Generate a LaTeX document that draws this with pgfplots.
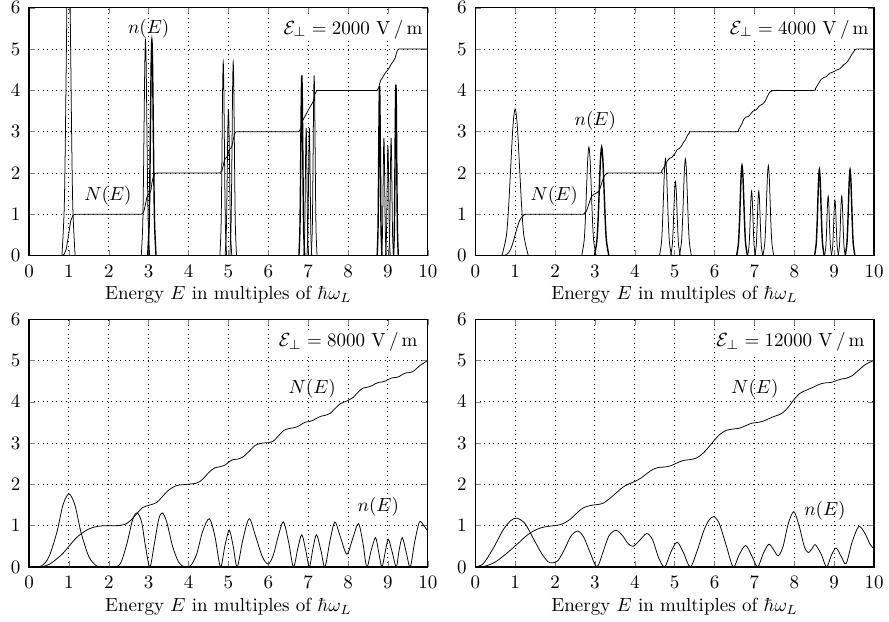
\documentclass[border=0pt]{standalone}
\usepackage{pgfplots}
\pgfplotsset{compat=1.18}
\pgfplotsset{
  panel/.style={
    width=210pt, height=130.5pt, scale only axis,
    xmin=0, xmax=10, ymin=0, ymax=6,
    xtick={0,1,2,3,4,5,6,7,8,9,10}, ytick={0,1,2,3,4,5,6},
    grid=major, major grid style={dotted, black, line width=0.5pt},
    tick align=inside, major tick length=3pt,
    axis line style={black, line width=0.6pt},
    xlabel={Energy $E$ in multiples of $\hbar\omega_L$},
    xlabel style={yshift=2pt},
    xticklabel style={yshift=-1.5pt},
    yticklabel style={xshift=-1pt},
    cycle list={{black, solid, line width=0.75pt, mark=none}},
  }
}
\begin{document}
\begin{tikzpicture}
% ---------------- panel 1: 2000 V/m
\begin{axis}[panel, at={(0pt,164pt)}]
\addplot+[smooth] coordinates {(0.825,0)(0.88,1.08)(0.9075,2.6)(0.935,4.86)(0.9625,7.06)(0.99,8)(1.0175,7.06)(1.045,4.86)(1.0725,2.6)(1.10,1.08)(1.155,0)};
\addplot+[smooth] coordinates {(2.815,0)(2.85,0.705)(2.8675,1.70)(2.885,3.17)(2.9025,4.61)(2.92,5.22)(2.9375,4.61)(2.955,3.17)(2.9725,1.70)(2.99,0.705)(3.025,0)};
\addplot+[smooth] coordinates {(2.975,0)(3.01,0.705)(3.0275,1.70)(3.045,3.17)(3.0625,4.61)(3.08,5.22)(3.0975,4.61)(3.115,3.17)(3.1325,1.70)(3.15,0.705)(3.185,0)};
\addplot+[smooth] coordinates {(4.786,0)(4.814,0.633)(4.828,1.524)(4.842,2.847)(4.856,4.141)(4.87,4.69)(4.884,4.141)(4.898,2.847)(4.912,1.524)(4.926,0.633)(4.954,0)};
\addplot+[smooth] coordinates {(4.916,0)(4.944,0.479)(4.958,1.154)(4.972,2.155)(4.986,3.135)(5.0,3.55)(5.014,3.135)(5.028,2.155)(5.042,1.154)(5.056,0.479)(5.084,0)};
\addplot+[smooth] coordinates {(5.036,0)(5.064,0.633)(5.078,1.524)(5.092,2.847)(5.106,4.141)(5.12,4.69)(5.134,4.141)(5.148,2.847)(5.162,1.524)(5.176,0.633)(5.204,0)};
\addplot+[smooth] coordinates {(6.768,0)(6.792,0.589)(6.804,1.417)(6.816,2.647)(6.828,3.85)(6.84,4.36)(6.852,3.85)(6.864,2.647)(6.876,1.417)(6.888,0.589)(6.912,0)};
\addplot+[smooth] coordinates {(6.89,0)(6.91,0.417)(6.92,1.004)(6.93,1.876)(6.94,2.728)(6.95,3.09)(6.96,2.728)(6.97,1.876)(6.98,1.004)(6.99,0.417)(7.01,0)};
\addplot+[smooth] coordinates {(6.97,0)(6.99,0.417)(7.00,1.004)(7.01,1.876)(7.02,2.728)(7.03,3.09)(7.04,2.728)(7.05,1.876)(7.06,1.004)(7.07,0.417)(7.09,0)};
\addplot+[smooth] coordinates {(7.078,0)(7.102,0.589)(7.114,1.417)(7.126,2.647)(7.138,3.85)(7.15,4.36)(7.162,3.85)(7.174,2.647)(7.186,1.417)(7.198,0.589)(7.222,0)};
\addplot+[smooth] coordinates {(8.73,0)(8.75,0.554)(8.76,1.333)(8.77,2.489)(8.78,3.62)(8.79,4.1)(8.80,3.62)(8.81,2.489)(8.82,1.333)(8.83,0.554)(8.85,0)};
\addplot+[smooth] coordinates {(8.84,0)(8.86,0.385)(8.87,0.926)(8.88,1.73)(8.89,2.517)(8.90,2.85)(8.91,2.517)(8.92,1.73)(8.93,0.926)(8.94,0.385)(8.96,0)};
\addplot+[smooth] coordinates {(8.94,0)(8.96,0.36)(8.97,0.868)(8.98,1.621)(8.99,2.358)(9.0,2.67)(9.01,2.358)(9.02,1.621)(9.03,0.868)(9.04,0.36)(9.06,0)};
\addplot+[smooth] coordinates {(9.02,0)(9.04,0.385)(9.05,0.926)(9.06,1.73)(9.07,2.517)(9.08,2.85)(9.09,2.517)(9.10,1.73)(9.11,0.926)(9.12,0.385)(9.14,0)};
\addplot+[smooth] coordinates {(9.14,0)(9.16,0.559)(9.17,1.346)(9.18,2.513)(9.19,3.656)(9.20,4.14)(9.21,3.656)(9.22,2.513)(9.23,1.346)(9.24,0.559)(9.26,0)};
% N(E)
\addplot coordinates {(0,0)(0.82,0)(0.88,0.03)(0.935,0.16)(0.99,0.5)(1.045,0.84)(1.10,0.97)(1.15,1.0)
(2.80,1.0)(2.85,1.02)(2.885,1.09)(2.92,1.25)(2.955,1.41)(2.99,1.48)(3.03,1.51)(3.06,1.6)(3.08,1.75)(3.115,1.91)(3.15,1.98)(3.2,2.0)
(4.78,2.0)(4.84,2.06)(4.87,2.185)(4.90,2.31)(4.94,2.37)(4.975,2.40)(5.0,2.485)(5.025,2.57)(5.06,2.60)(5.09,2.66)(5.12,2.80)(5.15,2.94)(5.19,2.995)(5.23,3.0)
(6.77,3.0)(6.82,3.09)(6.84,3.175)(6.86,3.26)(6.90,3.34)(6.95,3.425)(6.99,3.5)(7.03,3.575)(7.08,3.65)(7.13,3.74)(7.15,3.825)(7.17,3.91)(7.21,3.99)(7.25,4.0)
(8.73,4.0)(8.77,4.07)(8.79,4.15)(8.82,4.25)(8.86,4.30)(8.90,4.37)(8.94,4.43)(9.0,4.5)(9.04,4.56)(9.08,4.63)(9.13,4.70)(9.18,4.78)(9.20,4.85)(9.23,4.95)(9.27,5.0)(10,5.0)};
\node at (axis cs:3.0,5.5) {$n(E)$};
\node at (axis cs:1.98,1.45) {$N(E)$};
\node[anchor=east, fill=white, inner sep=1pt] at (axis cs:9.92,5.48) {$\mathcal{E}_\perp = 2000\ \mathrm{V}\,/\,\mathrm{m}$};
\end{axis}
% ---------------- panel 2: 4000 V/m
\begin{axis}[panel, at={(235pt,164pt)}]
\addplot+[smooth] coordinates {(0.67,0)(0.78,0.479)(0.835,1.154)(0.89,2.155)(0.945,3.135)(1.0,3.55)(1.055,3.135)(1.11,2.155)(1.165,1.154)(1.22,0.479)(1.33,0)};
\addplot+[smooth] coordinates {(2.67,0)(2.73,0.355)(2.76,0.855)(2.79,1.596)(2.82,2.322)(2.85,2.63)(2.88,2.322)(2.91,1.596)(2.94,0.855)(2.97,0.355)(3.03,0)};
\addplot+[smooth] coordinates {(2.99,0)(3.05,0.355)(3.08,0.855)(3.11,1.596)(3.14,2.322)(3.17,2.63)(3.20,2.322)(3.23,1.596)(3.26,0.855)(3.29,0.355)(3.35,0)};
\addplot+[smooth] coordinates {(4.62,0)(4.67,0.316)(4.695,0.761)(4.72,1.42)(4.745,2.066)(4.77,2.34)(4.795,2.066)(4.82,1.42)(4.845,0.761)(4.87,0.316)(4.92,0)};
\addplot+[smooth] coordinates {(4.90,0)(4.94,0.242)(4.96,0.582)(4.98,1.087)(5.0,1.581)(5.02,1.79)(5.04,1.581)(5.06,1.087)(5.08,0.582)(5.10,0.242)(5.14,0)};
\addplot+[smooth] coordinates {(5.12,0)(5.17,0.316)(5.195,0.761)(5.22,1.42)(5.245,2.066)(5.27,2.34)(5.295,2.066)(5.32,1.42)(5.345,0.761)(5.37,0.316)(5.42,0)};
\addplot+[smooth] coordinates {(6.555,0)(6.60,0.294)(6.6225,0.709)(6.645,1.323)(6.6675,1.925)(6.69,2.18)(6.7125,1.925)(6.735,1.323)(6.7575,0.709)(6.78,0.294)(6.825,0)};
\addplot+[smooth] coordinates {(6.831,0)(6.864,0.211)(6.8805,0.507)(6.897,0.947)(6.9135,1.377)(6.93,1.56)(6.9465,1.377)(6.963,0.947)(6.9795,0.507)(6.996,0.211)(7.029,0)};
\addplot+[smooth] coordinates {(7.011,0)(7.044,0.211)(7.0605,0.507)(7.077,0.947)(7.0935,1.377)(7.11,1.56)(7.1265,1.377)(7.143,0.947)(7.1595,0.507)(7.176,0.211)(7.209,0)};
\addplot+[smooth] coordinates {(7.215,0)(7.26,0.294)(7.2825,0.709)(7.305,1.323)(7.3275,1.925)(7.35,2.18)(7.3725,1.925)(7.395,1.323)(7.4175,0.709)(7.44,0.294)(7.485,0)};
\addplot+[smooth] coordinates {(8.51,0)(8.55,0.281)(8.57,0.676)(8.59,1.263)(8.61,1.837)(8.63,2.08)(8.65,1.837)(8.67,1.263)(8.69,0.676)(8.71,0.281)(8.75,0)};
\addplot+[smooth] coordinates {(8.76,0)(8.79,0.194)(8.805,0.468)(8.82,0.874)(8.835,1.272)(8.85,1.44)(8.865,1.272)(8.88,0.874)(8.895,0.468)(8.91,0.194)(8.94,0)};
\addplot+[smooth] coordinates {(8.93,0)(8.96,0.181)(8.975,0.436)(8.99,0.813)(9.005,1.183)(9.02,1.34)(9.035,1.183)(9.05,0.813)(9.065,0.436)(9.08,0.181)(9.11,0)};
\addplot+[smooth] coordinates {(9.10,0)(9.13,0.194)(9.145,0.468)(9.16,0.874)(9.175,1.272)(9.19,1.44)(9.205,1.272)(9.22,0.874)(9.235,0.468)(9.25,0.194)(9.28,0)};
\addplot+[smooth] coordinates {(9.28,0)(9.32,0.281)(9.34,0.676)(9.36,1.263)(9.38,1.837)(9.40,2.08)(9.42,1.837)(9.44,1.263)(9.46,0.676)(9.48,0.281)(9.52,0)};
% N(E)
\addplot+[smooth, tension=0.3] coordinates {(0,0)(0.67,0)(0.78,0.02)(0.835,0.07)(0.89,0.16)(0.945,0.31)(1.0,0.5)(1.055,0.69)(1.11,0.84)(1.165,0.93)(1.22,0.98)(1.3,1.0)
(2.67,1.0)(2.73,1.025)(2.79,1.08)(2.85,1.25)(2.91,1.42)(2.97,1.48)(3.01,1.5)(3.05,1.52)(3.11,1.58)(3.17,1.75)(3.23,1.92)(3.29,1.98)(3.35,2.0)
(4.62,2.0)(4.67,2.04)(4.72,2.12)(4.77,2.19)(4.82,2.30)(4.87,2.35)(4.93,2.38)(4.98,2.44)(5.02,2.49)(5.06,2.56)(5.12,2.60)(5.17,2.65)(5.22,2.74)(5.27,2.80)(5.32,2.91)(5.37,2.97)(5.43,3.0)
(6.55,3.0)(6.60,3.04)(6.65,3.13)(6.69,3.2)(6.73,3.29)(6.78,3.35)(6.85,3.37)(6.90,3.42)(6.93,3.46)(6.97,3.5)(7.03,3.52)(7.08,3.57)(7.11,3.61)(7.15,3.64)(7.21,3.67)(7.27,3.74)(7.33,3.86)(7.38,3.95)(7.45,3.99)(7.5,4.0)
(8.48,4.0)(8.53,4.04)(8.58,4.12)(8.63,4.2)(8.68,4.27)(8.74,4.31)(8.80,4.33)(8.85,4.38)(8.90,4.42)(8.96,4.44)(9.02,4.47)(9.08,4.5)(9.14,4.52)(9.19,4.57)(9.24,4.62)(9.30,4.66)(9.35,4.72)(9.40,4.8)(9.45,4.88)(9.50,4.95)(9.56,5.0)(10,5.0)};
\node at (axis cs:3.01,3.26) {$n(E)$};
\node at (axis cs:1.98,1.45) {$N(E)$};
\node[anchor=east, fill=white, inner sep=1pt] at (axis cs:9.92,5.48) {$\mathcal{E}_\perp = 4000\ \mathrm{V}\,/\,\mathrm{m}$};
\end{axis}
% ---------------- panel 3: 8000 V/m
\begin{axis}[panel, at={(0pt,0pt)}]
\addplot+[smooth] coordinates {(0,0)(0.3,0.02)(0.5,0.25)(0.7,0.85)(0.85,1.5)(1.0,1.77)(1.15,1.5)(1.3,0.85)(1.5,0.25)(1.7,0.02)(1.85,0)(2.15,0)
(2.3,0.1)(2.45,0.55)(2.6,1.15)(2.71,1.31)(2.82,1.1)(2.92,0.5)(3.03,0)
(3.14,0.55)(3.25,1.15)(3.34,1.31)(3.45,1.1)(3.6,0.5)(3.75,0.12)(3.9,0)(4.05,0.03)
(4.2,0.3)(4.35,0.85)(4.52,1.17)(4.66,0.75)(4.80,0)
(4.91,0.5)(5.02,0.89)(5.12,0.5)(5.22,0)
(5.36,0.65)(5.52,1.17)(5.68,0.75)(5.85,0.25)(6.0,0.07)
(6.13,0.3)(6.25,0.75)(6.38,1.09)(6.51,0.6)(6.63,0)
(6.74,0.45)(6.84,0.78)(6.94,0.4)(7.03,0)
(7.12,0.45)(7.21,0.78)(7.32,0.4)(7.42,0)
(7.55,0.65)(7.67,1.09)(7.8,0.75)(7.97,0.31)
(8.12,0.7)(8.26,1.05)(8.37,0.6)(8.47,0)
(8.58,0.4)(8.69,0.71)(8.77,0.35)(8.85,0)
(8.93,0.35)(9.01,0.67)(9.11,0.35)(9.21,0)
(9.28,0.4)(9.36,0.71)(9.46,0.35)(9.56,0)
(9.67,0.6)(9.79,1.09)(9.9,1.0)(10,0.87)};
\addplot+[smooth] coordinates {(0,0)(0.3,0.005)(0.5,0.06)(0.7,0.2)(0.85,0.33)(1.0,0.5)(1.15,0.67)(1.3,0.8)(1.5,0.92)(1.7,0.98)(1.9,1.0)(2.2,1.0)(2.4,1.03)(2.55,1.13)(2.71,1.3)(2.85,1.44)(3.03,1.5)(3.2,1.56)(3.34,1.7)(3.5,1.86)(3.7,1.97)(3.95,2.0)(4.2,2.03)(4.35,2.12)(4.52,2.3)(4.66,2.4)(4.8,2.43)(4.92,2.47)(5.02,2.55)(5.12,2.6)(5.22,2.61)(5.36,2.66)(5.52,2.8)(5.68,2.95)(5.85,3.0)(6.0,3.01)(6.13,3.05)(6.25,3.17)(6.38,3.3)(6.51,3.35)(6.63,3.37)(6.74,3.4)(6.84,3.46)(6.94,3.51)(7.03,3.52)(7.12,3.55)(7.21,3.6)(7.32,3.65)(7.42,3.67)(7.55,3.72)(7.67,3.83)(7.8,3.95)(7.97,4.02)(8.12,4.1)(8.26,4.24)(8.37,4.33)(8.47,4.35)(8.58,4.38)(8.69,4.44)(8.77,4.47)(8.85,4.48)(8.93,4.5)(9.01,4.54)(9.11,4.58)(9.21,4.59)(9.28,4.61)(9.36,4.66)(9.46,4.7)(9.56,4.71)(9.67,4.76)(9.79,4.87)(9.9,4.94)(10,5.0)};
\node at (axis cs:7.1,4.31) {$N(E)$};
\node at (axis cs:8.76,1.45) {$n(E)$};
\node[anchor=east, fill=white, inner sep=1pt] at (axis cs:9.8,5.45) {$\mathcal{E}_\perp = 8000\ \mathrm{V}\,/\,\mathrm{m}$};
\end{axis}
% ---------------- panel 4: 12000 V/m
\begin{axis}[panel, at={(235pt,0pt)}]
\addplot+[smooth] coordinates {(0,0)(0.2,0.08)(0.45,0.45)(0.7,0.9)(0.9,1.13)(1.05,1.18)(1.25,1.05)(1.45,0.7)(1.65,0.35)(1.82,0.13)(1.94,0.1)(2.08,0.16)(2.25,0.45)(2.4,0.75)(2.57,0.87)(2.72,0.72)(2.88,0.35)(3.05,0)
(3.2,0.35)(3.35,0.75)(3.53,0.89)(3.7,0.75)(3.82,0.58)(3.95,0.5)(4.1,0.62)(4.3,0.81)(4.45,0.65)(4.6,0.22)(4.75,0)
(4.9,0.35)(5.06,0.6)(5.22,0.35)(5.39,0)
(5.55,0.35)(5.72,0.85)(5.85,1.12)(5.98,1.22)(6.12,1.05)(6.3,0.5)(6.47,0)
(6.62,0.3)(6.78,0.52)(6.93,0.28)(7.08,0)
(7.22,0.32)(7.36,0.55)(7.48,0.42)(7.6,0.27)(7.72,0.5)(7.85,1.05)(7.99,1.34)(8.12,1.0)(8.25,0.5)(8.35,0.35)(8.45,0.45)(8.53,0.54)(8.68,0.3)(8.81,0)
(8.93,0.28)(9.05,0.46)(9.18,0.25)(9.3,0.08)(9.45,0.6)(9.62,0.98)(9.78,0.8)(9.9,0.55)(10,0.44)};
\addplot+[smooth] coordinates {(0,0)(0.25,0.02)(0.5,0.12)(0.75,0.3)(1.05,0.55)(1.25,0.73)(1.44,0.86)(1.62,0.94)(1.8,0.98)(1.98,1.0)(2.15,1.03)(2.28,1.09)(2.4,1.17)(2.53,1.29)(2.66,1.4)(2.78,1.46)(2.95,1.5)(3.05,1.51)(3.2,1.54)(3.35,1.64)(3.53,1.79)(3.7,1.93)(3.85,2.01)(4.0,2.07)(4.15,2.15)(4.3,2.26)(4.45,2.36)(4.6,2.41)(4.75,2.42)(4.9,2.45)(5.06,2.52)(5.22,2.58)(5.39,2.6)(5.55,2.64)(5.72,2.76)(5.85,2.9)(5.98,3.05)(6.12,3.2)(6.3,3.31)(6.47,3.34)(6.62,3.36)(6.78,3.42)(6.93,3.48)(7.08,3.5)(7.22,3.53)(7.36,3.59)(7.48,3.64)(7.6,3.68)(7.72,3.74)(7.85,3.87)(7.99,4.05)(8.12,4.19)(8.25,4.26)(8.35,4.3)(8.45,4.34)(8.53,4.38)(8.68,4.44)(8.81,4.46)(8.93,4.47)(9.05,4.51)(9.18,4.55)(9.3,4.57)(9.45,4.63)(9.62,4.77)(9.78,4.9)(9.9,4.96)(10,5.0)};
\node at (axis cs:7.01,4.32) {$N(E)$};
\node at (axis cs:8.77,1.37) {$n(E)$};
\node[anchor=east, fill=white, inner sep=1pt] at (axis cs:9.82,5.45) {$\mathcal{E}_\perp = 12000\ \mathrm{V}\,/\,\mathrm{m}$};
\end{axis}
\pgfresetboundingbox
\path (-15.3pt,-28.5pt) rectangle (452.9pt,298.6pt);
\end{tikzpicture}
\end{document}
